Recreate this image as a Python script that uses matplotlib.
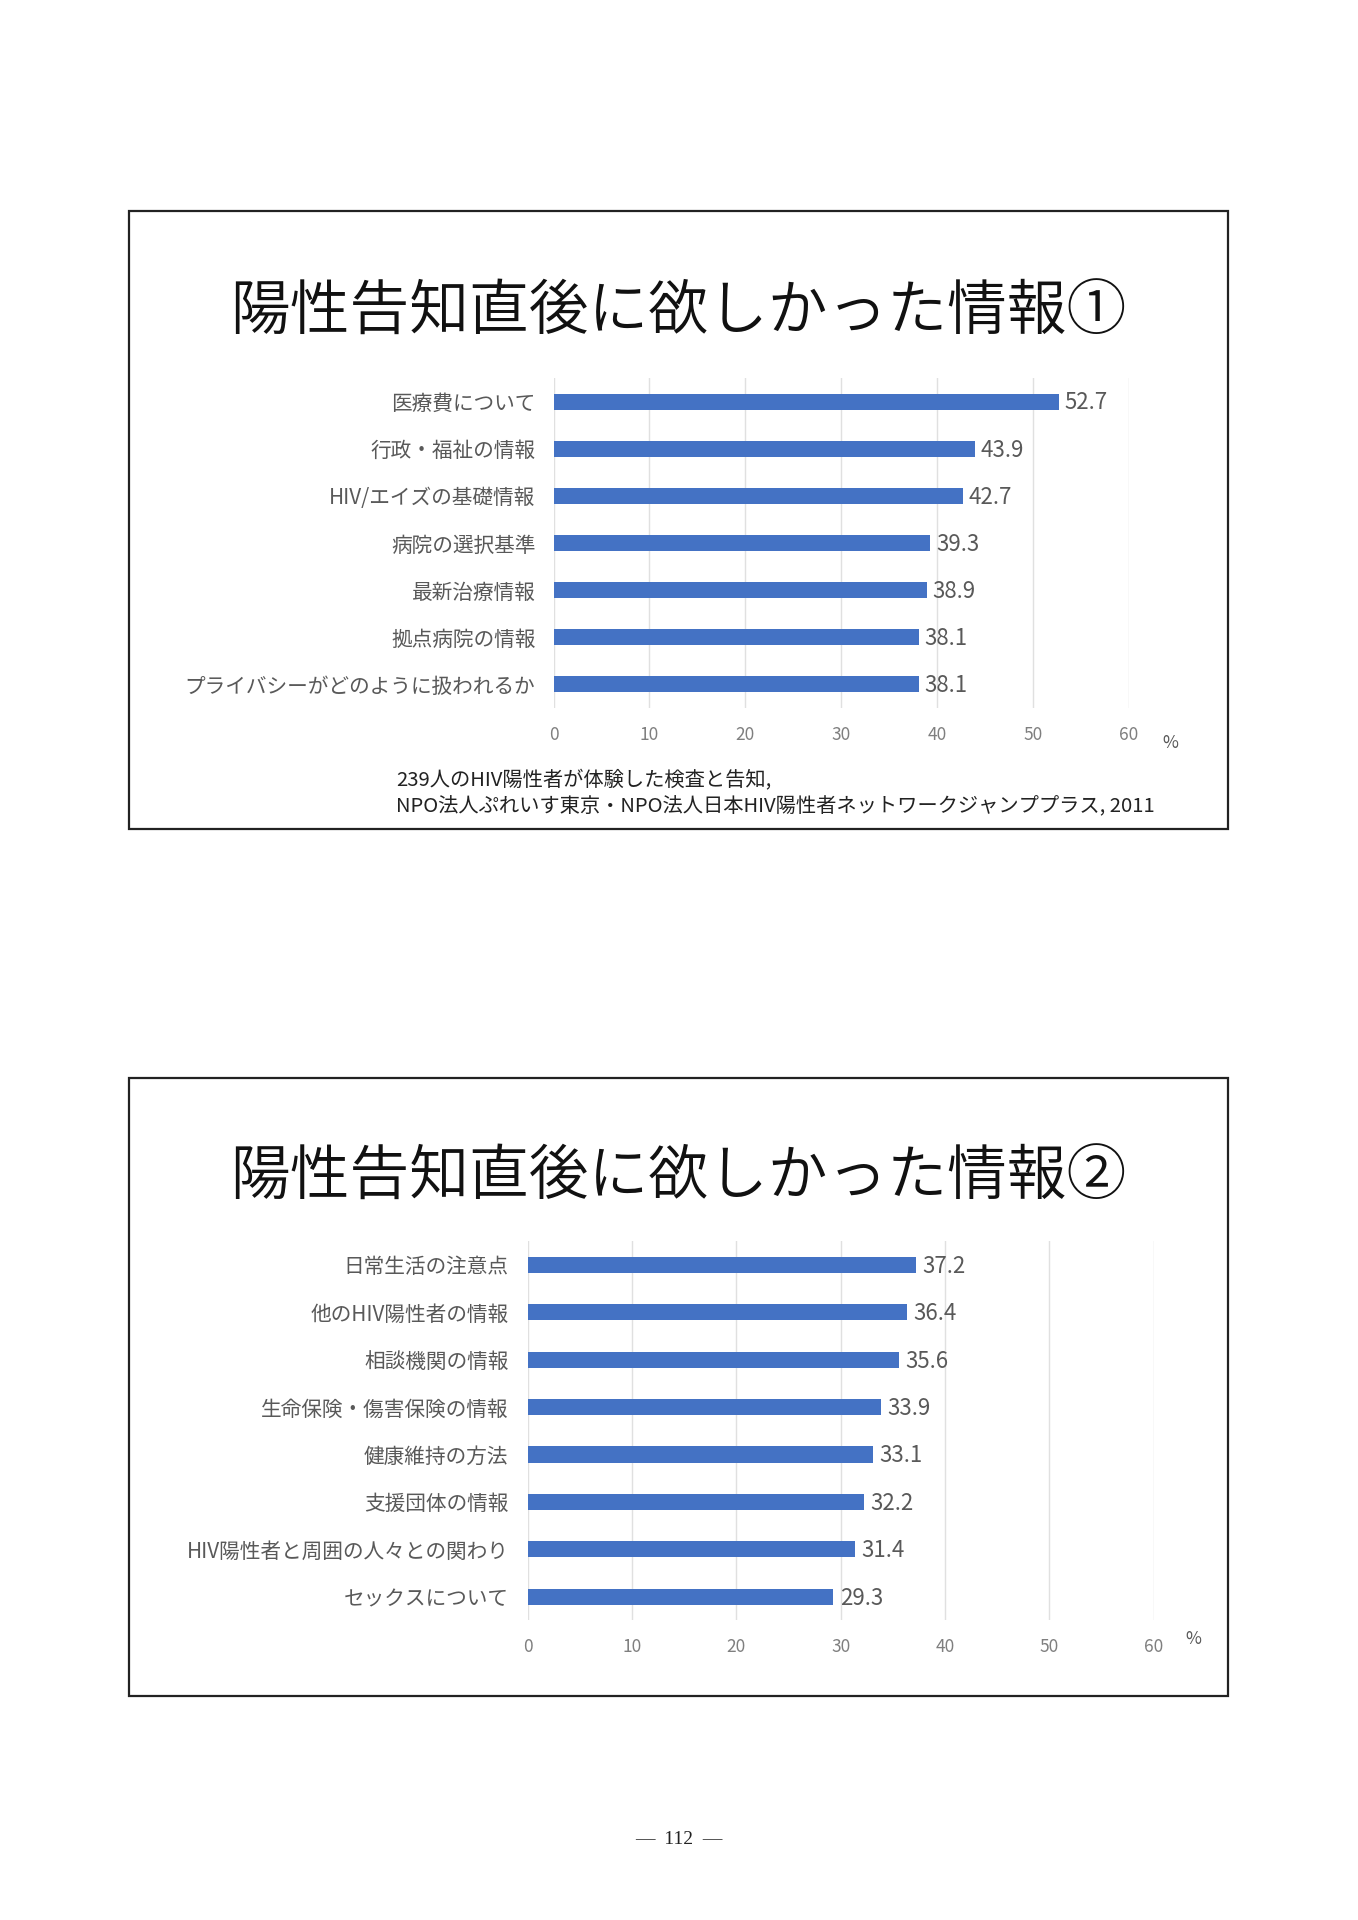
import matplotlib
matplotlib.use('Agg')
import matplotlib.pyplot as plt
from matplotlib.patches import Rectangle
from matplotlib import font_manager

plt.rcParams['font.family'] = ['Noto Sans CJK JP', 'DejaVu Sans']

# chart 1 data
labels1 = ['医療費について', '行政・福祉の情報', 'HIV/エイズの基礎情報', '病院の選択基準',
           '最新治療情報', '拠点病院の情報', 'プライバシーがどのように扱われるか']
values1 = [52.7, 43.9, 42.7, 39.3, 38.9, 38.1, 38.1]

# chart 2 data
labels2 = ['日常生活の注意点', '他のHIV陽性者の情報', '相談機関の情報', '生命保険・傷害保険の情報',
           '健康維持の方法', '支援団体の情報', 'HIV陽性者と周囲の人々との関わり', 'セックスについて']
values2 = [37.2, 36.4, 35.6, 33.9, 33.1, 32.2, 31.4, 29.3]

xticks = [0, 10, 20, 30, 40, 50, 60]

title1 = '陽性告知直後に欲しかった情報①'
title2 = '陽性告知直後に欲しかった情報②'
source1 = '239人のHIV陽性者が体験した検査と告知,'
source2 = 'NPO法人ぷれいす東京・NPO法人日本HIV陽性者ネットワークジャンププラス, 2011'

W, H = 1358, 1920
BAR = '#4472C4'
GREY = '#595959'

# use a light CJK face for the titles if one is installed
title_font = None
for f in font_manager.fontManager.ttflist:
    if 'CJK JP' in f.name and (f.weight in (200, 250, 300, 350, 'light', 'demilight')):
        title_font = font_manager.FontProperties(fname=f.fname)
        break

fig = plt.figure(figsize=(W / 100, H / 100), dpi=100)
fig.patch.set_facecolor('white')


def px(x, y):
    # pixel coords (top-left origin) -> figure fraction
    return x / W, 1 - y / H


def panel(box, ax_rect, labels, values, pct_xy, ypad):
    x0, y0, x1, y1 = box
    fig.patches.append(Rectangle(px(x0, y1), (x1 - x0) / W, (y1 - y0) / H,
                                 transform=fig.transFigure, fill=False,
                                 edgecolor='#222222', linewidth=1.6))
    ax = fig.add_axes(ax_rect)
    n = len(labels)
    pos = list(range(n))
    ax.barh(pos, values, height=0.34, color=BAR, zorder=3)
    for p, v in zip(pos, values):
        ax.text(v + 0.6, p + 0.03, f'{v:.1f}', va='center', ha='left',
                fontsize=16, color=GREY, zorder=4)
    ax.set_yticks(pos)
    ax.set_yticklabels(labels, fontsize=14.9, color=GREY)
    ax.set_ylim(n - 0.5, -0.5)
    ax.set_xlim(0, 60)
    ax.set_xticks(xticks)
    ax.set_xticklabels([str(t) for t in xticks], fontsize=12.5, color='#7f7f7f')
    ax.tick_params(axis='both', length=0)
    ax.tick_params(axis='x', pad=13)
    ax.tick_params(axis='y', pad=ypad)
    ax.grid(axis='x', color='#e0e0e0', linewidth=1, zorder=0)
    for s in ax.spines.values():
        s.set_visible(False)
    fx, fy = px(*pct_xy)
    fig.text(fx, fy, '%', fontsize=12.5, color=GREY, ha='center', va='center')


def title(text, y):
    tx, ty = px(678, y)
    if title_font is not None:
        fp = title_font.copy()
        fp.set_size(43)
        fig.text(tx, ty, text, fontproperties=fp, ha='center', va='center', color='#111111')
    else:
        fig.text(tx, ty, text, fontsize=43, ha='center', va='center', color='#111111',
                 fontweight='light')


panel((129, 211, 1228, 829),
      [553.5 / W, 1 - 708 / H, (1129 - 553.5) / W, (708 - 378) / H],
      labels1, values1, (1170, 743), 13)
title(title1, 313)
sx, sy = px(396, 781)
fig.text(sx, sy, source1, fontsize=14.6, ha='left', va='center', color='#222222')
sx, sy = px(396, 807)
fig.text(sx, sy, source2, fontsize=14.6, ha='left', va='center', color='#222222')

panel((129, 1078, 1228, 1696),
      [527.8 / W, 1 - 1620.4 / H, (1153.5 - 527.8) / W, (1620.4 - 1241.3) / H],
      labels2, values2, (1193, 1639), 14)
title(title2, 1178)

# page number
nx, ny = px(679, 1840)
fig.text(nx, ny, '—  112  —', fontsize=14, ha='center', va='center',
         color='#222222', family='Liberation Serif')

fig.savefig('out.png', dpi=100, facecolor='white')
